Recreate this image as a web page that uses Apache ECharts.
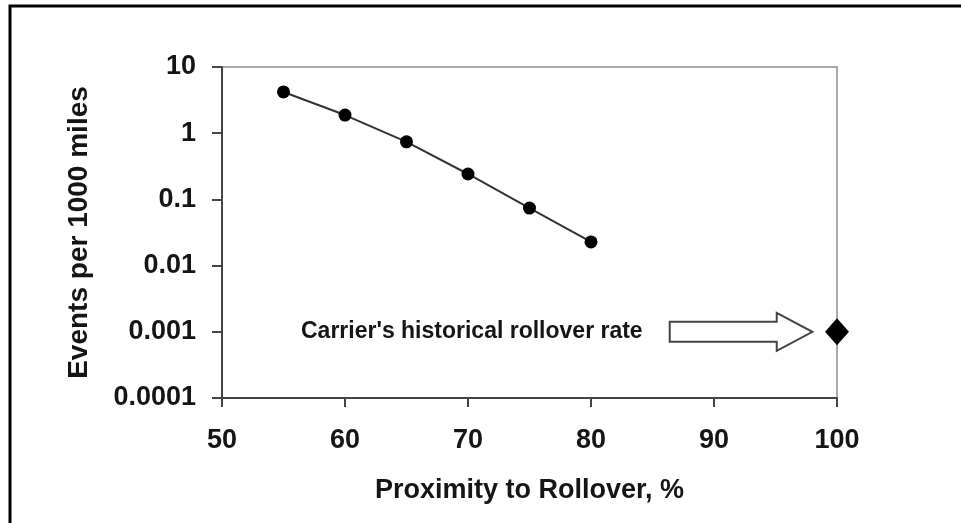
<!DOCTYPE html>
<html>
<head>
<meta charset="utf-8">
<script src="https://cdn.jsdelivr.net/npm/echarts@6/dist/echarts.min.js"></script>
<style>
html,body{margin:0;padding:0;background:#fff;}
#chart{width:961px;height:523px;}
</style>
</head>
<body>
<div id="chart"></div>
<script>
// Data
var proximity = [55, 60, 65, 70, 75, 80];
var eventsPer1000 = [4.2, 1.88, 0.74, 0.242, 0.074, 0.0228];
var historicalX = [100];
var historicalY = [0.001];
var yTickLabels = ['0.0001', '0.001', '0.01', '0.1', '1', '10'];
var xTickLabels = ['50', '60', '70', '80', '90', '100'];
var annotationText = "Carrier's historical rollover rate";
var xTitle = 'Proximity to Rollover, %';
var yTitle = 'Events per 1000 miles';

var FONT = '"Liberation Sans", Arial, sans-serif';
var chart = echarts.init(document.getElementById('chart'));

var option = {
  animation: false,
  backgroundColor: '#fff',
  grid: {
    left: 222, top: 67, right: 124, bottom: 125,
    show: true, borderColor: '#aaaaaa', borderWidth: 2, backgroundColor: 'transparent'
  },
  xAxis: {
    type: 'value', min: 50, max: 100, interval: 10,
    name: xTitle, nameLocation: 'middle', nameGap: 79,
    nameTextStyle: { fontFamily: FONT, fontWeight: 'bold', fontSize: 27, color: '#151515' },
    axisLine: { show: true, lineStyle: { color: '#444', width: 2 } },
    axisTick: { show: true, length: 9, lineStyle: { color: '#444', width: 2 } },
    splitLine: { show: false },
    axisLabel: {
      margin: 29, fontFamily: FONT, fontWeight: 'bold', fontSize: 27, color: '#151515',
      formatter: function (v) { return xTickLabels[Math.round((v - 50) / 10)]; }
    }
  },
  yAxis: {
    type: 'log', logBase: 10, min: 0.0001, max: 10,
    name: yTitle, nameLocation: 'middle', nameGap: 129, nameRotate: 90,
    nameTextStyle: { fontFamily: FONT, fontWeight: 'bold', fontSize: 28, color: '#151515' },
    axisLine: { show: true, lineStyle: { color: '#444', width: 2 } },
    axisTick: { show: true, length: 10, lineStyle: { color: '#444', width: 2 } },
    splitLine: { show: false },
    minorTick: { show: false },
    axisLabel: {
      margin: 26, fontFamily: FONT, fontWeight: 'bold', fontSize: 27, color: '#151515',
      formatter: function (v) { return yTickLabels[Math.round(Math.log10(v)) + 4]; }
    }
  },
  series: [
    {
      type: 'line',
      data: proximity.map(function (x, i) { return [x, eventsPer1000[i]]; }),
      symbol: 'circle', symbolSize: 13,
      lineStyle: { color: '#333', width: 2 },
      itemStyle: { color: '#000', opacity: 1 },
      z: 3
    },
    {
      type: 'scatter',
      data: historicalX.map(function (x, i) { return [x, historicalY[i]]; }),
      symbol: 'diamond', symbolSize: [24, 27],
      itemStyle: { color: '#000', opacity: 1 },
      clip: false,
      z: 10
    }
  ]
};
chart.setOption(option);

// Annotation positioned through the chart's own scales
function px(x, y) { return chart.convertToPixel({ gridIndex: 0 }, [x, y]); }
var yRef = historicalY[0];
var tStart = px(84.2, yRef);
var aStart = px(86.4, yRef);
var aHead = px(95.1, yRef);
var aTip = px(98.0, yRef);
var cy = aStart[1];
var bodyH = 10, headH = 19;
chart.setOption({
  graphic: [
    {
      type: 'rect', shape: { x: 10, y: 6, width: 1200, height: 1200 },
      style: { fill: 'none', stroke: '#000', lineWidth: 3 }, z: 100, silent: true
    },
    {
      type: 'text', x: tStart[0], y: cy,
      style: { text: annotationText, fontFamily: FONT, fontWeight: 'bold', fontSize: 23,
               fill: '#151515', align: 'right', verticalAlign: 'middle' }
    },
    {
      type: 'polygon',
      shape: { points: [
        [aStart[0], cy - bodyH], [aHead[0], cy - bodyH], [aHead[0], cy - headH],
        [aTip[0], cy], [aHead[0], cy + headH], [aHead[0], cy + bodyH], [aStart[0], cy + bodyH]
      ] },
      style: { fill: '#fff', stroke: '#444', lineWidth: 2 }
    }
  ]
});
</script>
</body>
</html>
